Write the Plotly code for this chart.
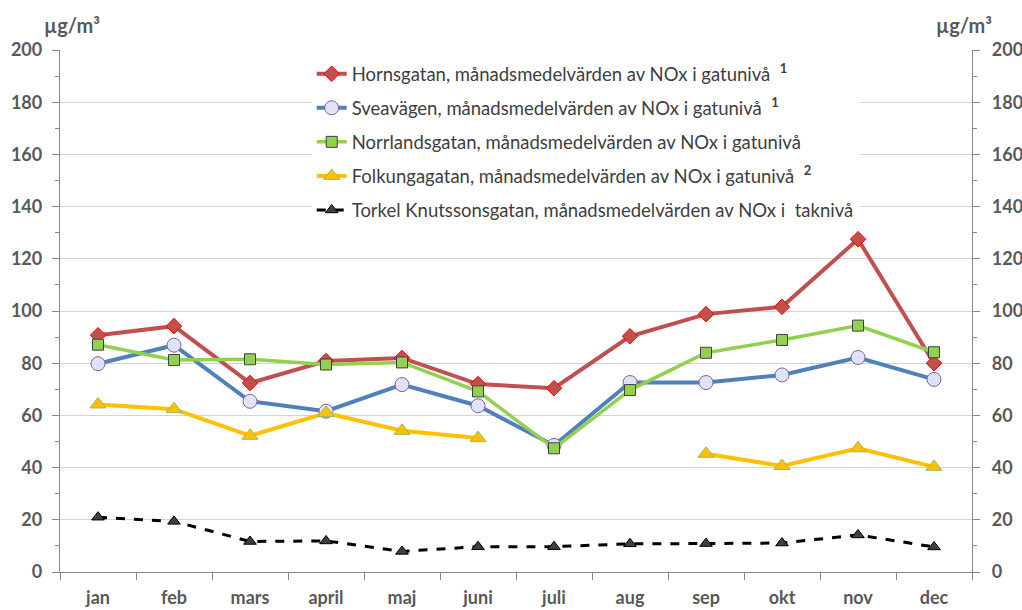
import plotly.graph_objects as go

months = ["jan", "feb", "mars", "april", "maj", "juni", "juli", "aug", "sep", "okt", "nov", "dec"]

horns = [90.7, 94.2, 72.4, 80.8, 82.0, 72.0, 70.4, 90.3, 98.8, 101.6, 127.5, 80.0]
svea = [79.8, 86.9, 65.4, 61.6, 71.8, 63.7, 48.5, 72.6, 72.6, 75.5, 82.2, 73.8]
norr = [87.1, 81.2, 81.5, 79.5, 80.3, 69.2, 47.4, 69.7, 84.0, 88.9, 94.4, 84.2]
folk = [64.2, 62.4, 52.2, 60.9, 54.1, 51.3, None, None, 45.3, 40.6, 47.4, 40.3]
torkel = [21.0, 19.4, 11.7, 11.9, 7.9, 9.7, 9.7, 10.8, 10.9, 11.1, 14.2, 9.6]

names = [
    "Hornsgatan, månadsmedelvärden av NOx i gatunivå  <b><sup>1</sup></b>",
    "Sveavägen, månadsmedelvärden av NOx i gatunivå  <b><sup>1</sup></b>",
    "Norrlandsgatan, månadsmedelvärden av NOx i gatunivå",
    "Folkungagatan, månadsmedelvärden av NOx i gatunivå  <b><sup>2</sup></b>",
    "Torkel Knutssonsgatan, månadsmedelvärden av NOx i\u00a0\u00a0taknivå",
]

font_family = "Lato, 'Open Sans', sans-serif"
gray = "#595959"

fig = go.Figure()

fig.add_trace(go.Scatter(
    x=months, y=horns, name=names[0], mode="lines+markers",
    line=dict(color="#c0504d", width=4),
    marker=dict(symbol="diamond", size=12, color="#c0504d", line=dict(color="#ff0000", width=1)),
    legendgroup="a",
))
fig.add_trace(go.Scatter(
    x=months, y=svea, name=names[1], mode="lines+markers",
    line=dict(color="#4f81bd", width=4),
    marker=dict(symbol="circle", size=14, color="#dfe3f3", line=dict(color="#7f62a0", width=1)),
    legendgroup="b",
))
fig.add_trace(go.Scatter(
    x=months, y=norr, name=names[2], mode="lines+markers",
    line=dict(color="#92d050", width=3.5),
    marker=dict(symbol="square", size=11, color="#92d050", line=dict(color="#404040", width=1)),
    legendgroup="c",
))
fig.add_trace(go.Scatter(
    x=months, y=folk, name=names[3], mode="lines+markers",
    line=dict(color="#ffc000", width=4),
    marker=dict(symbol="triangle-up", size=14, color="#ffc000", line=dict(color="#9bbb59", width=1)),
    connectgaps=False,
    legendgroup="d",
))
fig.add_trace(go.Scatter(
    x=months, y=torkel, name=names[4], mode="lines+markers",
    line=dict(color="#000000", width=3, dash="dash"),
    marker=dict(symbol="triangle-up", size=11, color="#404040", line=dict(color="#000000", width=1)),
    legendgroup="e", yaxis="y2",
))

tick_font = dict(family=font_family, size=18, color=gray, weight="bold")

fig.update_layout(
    width=1022, height=610,
    margin=dict(l=60, r=50, t=50, b=38),
    paper_bgcolor="white", plot_bgcolor="white",
    font=dict(family=font_family, color="#404040"),
    showlegend=True,
    legend=dict(
        x=0.276, y=0.99, xanchor="left", yanchor="top",
        bgcolor="white", borderwidth=0,
        font=dict(family=font_family, size=18.5, color="#404040"),
        tracegroupgap=7, traceorder="grouped",
        itemwidth=30,
    ),
    xaxis=dict(
        type="category", categoryorder="array", categoryarray=months,
        tickson="boundaries", ticks="outside", ticklen=7, tickcolor="#868686",
        showline=True, linecolor="#868686", linewidth=1.3,
        showgrid=False, zeroline=False, automargin=False,
        tickfont=tick_font, ticklabelstandoff=9,
        range=[-0.5, 11.5],
    ),
    yaxis=dict(
        range=[0, 200], dtick=20, tick0=0,
        ticks="outside", ticklen=7, tickcolor="#868686",
        minor=dict(dtick=10, ticks="outside", ticklen=4, tickcolor="#868686", showgrid=False),
        showline=True, linecolor="#868686", linewidth=1.3,
        showgrid=True, gridcolor="#d4d4d4", gridwidth=1,
        zeroline=False, automargin=False,
        tickfont=tick_font,
        ticklabelstandoff=6,
    ),
    yaxis2=dict(
        range=[0, 200], dtick=20, tick0=0, overlaying="y", side="right",
        ticks="outside", ticklen=7, tickcolor="#868686",
        minor=dict(dtick=10, ticks="outside", ticklen=4, tickcolor="#868686", showgrid=False),
        showline=True, linecolor="#868686", linewidth=1.3,
        showgrid=False, zeroline=False, automargin=False,
        tickfont=tick_font,
        ticklabelstandoff=8,
    ),
    annotations=[
        dict(text="<b>µg/m³</b>", xref="paper", yref="paper", x=0.013, y=1.048,
             xanchor="center", yanchor="middle", showarrow=False,
             font=dict(family=font_family, size=20, color=gray)),
        dict(text="<b>µg/m³</b>", xref="paper", yref="paper", x=0.991, y=1.048,
             xanchor="center", yanchor="middle", showarrow=False,
             font=dict(family=font_family, size=20, color=gray)),
    ],
)

fig.write_html(
    "out.html",
    config={"displayModeBar": False},
    post_script="document.body.style.margin='0';document.body.style.overflow='hidden';",
)
